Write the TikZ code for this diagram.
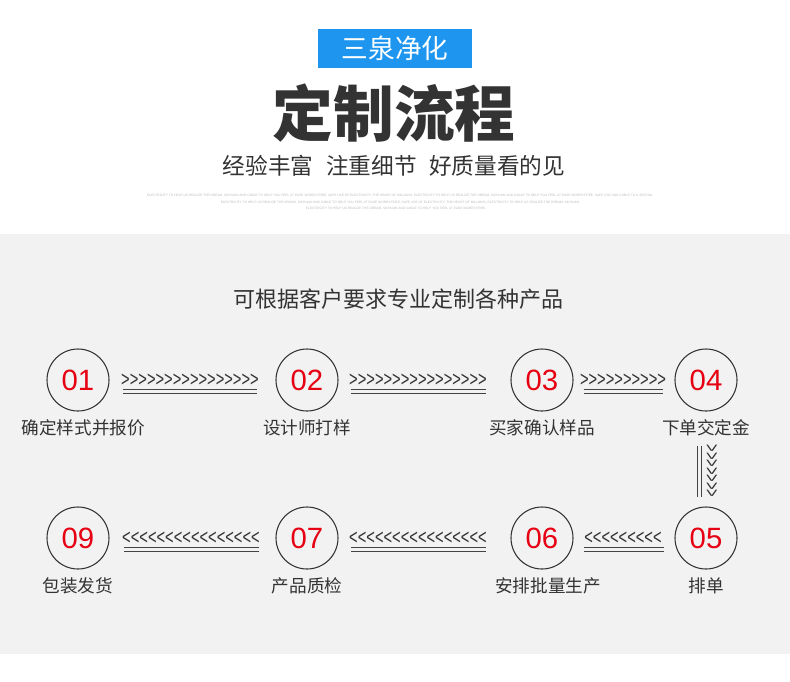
\documentclass[tikz,border=0pt]{standalone}
\usepackage{fontspec}
\setmainfont{Liberation Sans}
\newfontfamily\cjk{Noto Sans CJK SC}
\newfontfamily\chevfont[Ligatures=TeXOff]{Liberation Sans}
\usetikzlibrary{positioning}
\definecolor{brandblue}{HTML}{1E96F0}
\definecolor{bandgray}{HTML}{F2F2F2}
\definecolor{numred}{HTML}{E60012}
\definecolor{darktext}{HTML}{333333}
\definecolor{linegray}{HTML}{444444}
\definecolor{faintgray}{HTML}{BBBBBB}

\begin{document}
\begin{tikzpicture}[x=0.75pt,y=-0.75pt,
  stepcirc/.style={circle,draw=darktext,line width=0.8pt,minimum size=46.5pt,inner sep=0pt,text=numred,font=\fontsize{22}{22}\selectfont},
  steplabel/.style={text=darktext,font=\cjk\fontsize{13.2}{14}\selectfont,inner sep=0pt},
  chevrons/.style={text=darktext,font=\chevfont\fontsize{16}{16}\selectfont,inner sep=0pt,xscale=0.69,transform shape},
  downchevrons/.style={text=darktext,font=\chevfont\fontsize{16}{16}\selectfont,inner sep=0pt,rotate=-90,xscale=0.6,transform shape},
  dline/.style={draw=linegray,double=bandgray,double distance=2.25pt,line width=0.75pt},
  tinytext/.style={text=faintgray,font=\fontsize{2.42}{3}\selectfont,inner sep=0pt}]
\useasboundingbox (0,0) rectangle (790,682);
\fill[white] (0,0) rectangle (790,682);
\fill[bandgray] (0,234) rectangle (790,654);

% header
\fill[brandblue] (318,29) rectangle (472,68);
\draw(395,48) node[text=white,font=\cjk\fontsize{20}{20}\selectfont] (brand) {三泉净化};
\draw(394,113) node[text=darktext,font=\cjk\bfseries\fontsize{45.5}{46}\selectfont] (title) {定制流程};
\draw(394,166) node[text=darktext,font=\cjk\fontsize{17}{17}\selectfont] (sub) {经验丰富\hspace{0.55em}注重细节\hspace{0.55em}好质量看的见};
\draw(400,196) node[tinytext] (en1) {ELECTRICITY TO HELP US REALIZE THE DREAM, SICHUAN AND CABLE TO HELP YOU FEEL AT EASE WORRY-FREE, SAFE USE OF ELECTRICITY, THE HEART OF MILLIONS, ELECTRICITY TO HELP US REALIZE THE DREAM, SICHUAN AND CABLE TO HELP YOU FEEL AT EASE WORRY-FREE, SAFE USE AND CABLE TO A SPECIAL};
\draw(400,203) node[tinytext] (en2) {ELECTRICITY TO HELP US REALIZE THE DREAM, SICHUAN AND CABLE TO HELP YOU FEEL AT EASE WORRY-FREE, SAFE USE OF ELECTRICITY, THE HEART OF MILLIONS, ELECTRICITY TO HELP US REALIZE THE DREAM, SICHUAN};
\draw(396,209) node[tinytext] (en3) {ELECTRICITY TO HELP US REALIZE THE DREAM, SICHUAN AND CABLE TO HELP YOU FEEL AT EASE WORRY-FREE.};

\draw(398,299) node[text=darktext,font=\cjk\fontsize{16.5}{17}\selectfont] (head) {可根据客户要求专业定制各种产品};

% steps, first row
\draw(78,380) node[stepcirc] (s1) {01};
\draw(307,380) node[stepcirc] (s2) {02};
\draw(542,380) node[stepcirc] (s3) {03};
\draw(706,380) node[stepcirc] (s4) {04};
\node[steplabel,below=6pt of s1,xshift=4pt] (l1) {确定样式并报价};
\node[steplabel,below=6pt of s2] (l2) {设计师打样};
\node[steplabel,below=6pt of s3] (l3) {买家确认样品};
\node[steplabel,below=6pt of s4] (l4) {下单交定金};

% steps, second row
\draw(706,538) node[stepcirc] (s5) {05};
\draw(542,538) node[stepcirc] (s6) {06};
\draw(307,538) node[stepcirc] (s7) {07};
\draw(78,538) node[stepcirc] (s9) {09};
\node[steplabel,below=6pt of s5] (l5) {排单};
\node[steplabel,below=6pt of s6,xshift=4.5pt] (l6) {安排批量生产};
\node[steplabel,below=6pt of s7] (l7) {产品质检};
\node[steplabel,below=6pt of s9] (l9) {包装发货};

% arrows, first row
\draw(190,380) node[chevrons] (a12) {>>>>>>>>>>>>>>>>};
\draw(418,380) node[chevrons] (a23) {>>>>>>>>>>>>>>>>};
\draw(623,380) node[chevrons] (a34) {>>>>>>>>>>};
\draw[dline,shorten <=9.75pt,shorten >=13.5pt] ([shift={(0,11)}]s1.east) -- ([shift={(0,11)}]s2.west);
\draw[dline,shorten <=9pt,shorten >=18pt] ([shift={(0,11)}]s2.east) -- ([shift={(0,11)}]s3.west);
\draw[dline,shorten <=7.5pt,shorten >=8.25pt] ([shift={(0,11)}]s3.east) -- ([shift={(0,11)}]s4.west);

% down to the second row
\draw(711,471) node[downchevrons] (a45) {>>>>>>>};
\draw[dline,shorten <=25.5pt,shorten >=6.75pt] ([shift={(-7,0)}]s4.south) -- ([shift={(-7,0)}]s5.north);

% arrows, second row
\draw(623,538) node[chevrons] (a56) {<<<<<<<<<};
\draw(418,538) node[chevrons] (a67) {<<<<<<<<<<<<<<<<};
\draw(191,538) node[chevrons] (a79) {<<<<<<<<<<<<<<<<};
\draw[dline,shorten <=7.5pt,shorten >=7.5pt] ([shift={(0,11)}]s5.west) -- ([shift={(0,11)}]s6.east);
\draw[dline,shorten <=18pt,shorten >=9pt] ([shift={(0,11)}]s6.west) -- ([shift={(0,11)}]s7.east);
\draw[dline,shorten <=12pt,shorten >=10.5pt] ([shift={(0,11)}]s7.west) -- ([shift={(0,11)}]s9.east);
\end{tikzpicture}
\end{document}
